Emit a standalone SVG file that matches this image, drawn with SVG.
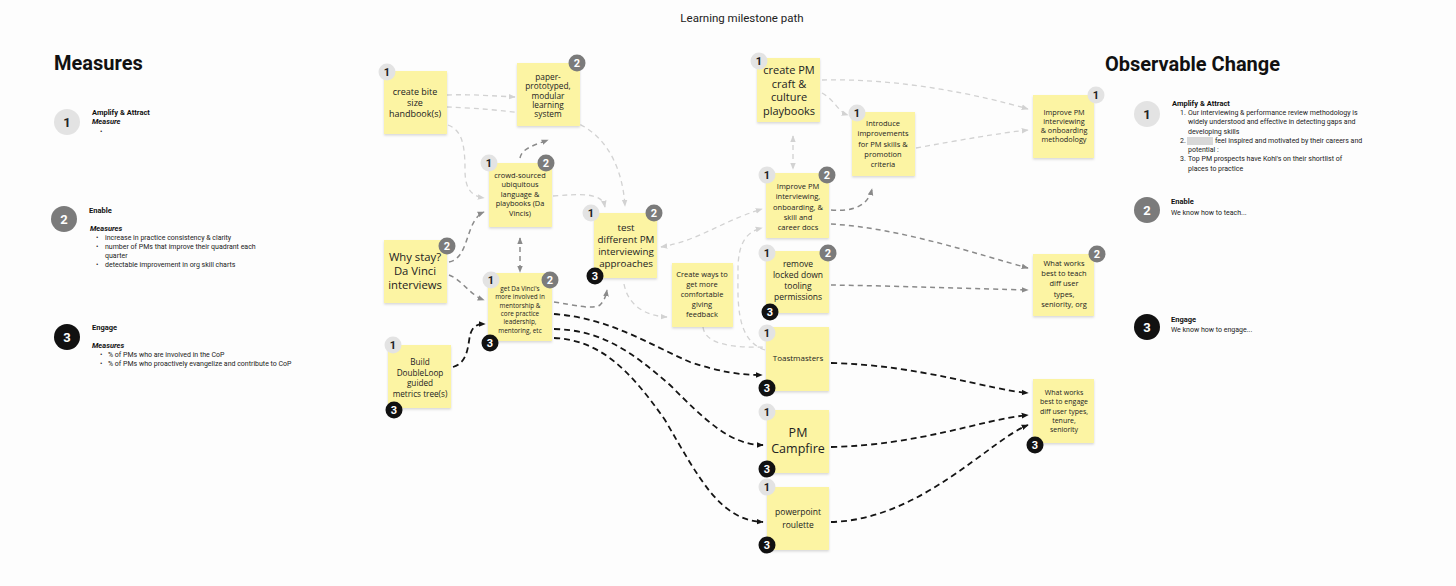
<svg xmlns="http://www.w3.org/2000/svg" width="1456" height="586" viewBox="0 0 1456 586">
<style>
.bg{fill:#fdfdfd}
.note{fill:#fcf4a3;filter:url(#sh)}
.nt{font-family:"Open Sans","Liberation Sans",sans-serif;fill:#222;text-anchor:middle}
.h{font-family:Roboto,"Liberation Sans",sans-serif;font-weight:700;font-size:20px;fill:#111}
.t{font-family:Roboto,"Liberation Sans",sans-serif;font-size:7px;fill:#222}
.tb{font-family:Roboto,"Liberation Sans",sans-serif;font-size:7.5px;font-weight:700;fill:#111}
.ti{font-family:Roboto,"Liberation Sans",sans-serif;font-size:7.5px;font-weight:700;font-style:italic;fill:#111}
.b1{fill:#e3e3e3}.b2{fill:#7b7b7b}.b3{fill:#111}
.bt{font-family:Roboto,"Liberation Sans",sans-serif;font-weight:700;text-anchor:middle}
.bt1{fill:#222}.bt2{fill:#fff}
.cl{fill:none;stroke:#d2d2d2;stroke-width:1.3;stroke-dasharray:5 4}
.cd{fill:none;stroke:#8a8a8a;stroke-width:1.5;stroke-dasharray:5 4}
.ck{fill:none;stroke:#151515;stroke-width:1.8;stroke-dasharray:6 4}
</style>
<defs>
<filter id="sh" x="-10%" y="-10%" width="130%" height="130%"><feDropShadow dx="0" dy="1.5" stdDeviation="1.2" flood-color="#000" flood-opacity="0.15"/></filter>
<marker id="al" viewBox="0 0 10 10" refX="9" refY="5" markerWidth="7" markerHeight="7" markerUnits="userSpaceOnUse" orient="auto-start-reverse"><path d="M0,1 L10,5 L0,9 z" fill="#d2d2d2"/></marker>
<marker id="ad" viewBox="0 0 10 10" refX="9" refY="5" markerWidth="7" markerHeight="7" markerUnits="userSpaceOnUse" orient="auto-start-reverse"><path d="M0,1 L10,5 L0,9 z" fill="#8a8a8a"/></marker>
<marker id="ak" viewBox="0 0 10 10" refX="9" refY="5" markerWidth="7" markerHeight="7" markerUnits="userSpaceOnUse" orient="auto-start-reverse"><path d="M0,1 L10,5 L0,9 z" fill="#151515"/></marker>
</defs>
<rect class="bg" x="0" y="0" width="1456" height="586"/>

<text x="742" y="22" text-anchor="middle" font-family="Roboto,'Liberation Sans',sans-serif" font-size="11.5" fill="#222">Learning milestone path</text>

<g id="measures">
<text class="h" x="54" y="70">Measures</text>
<circle class="b1" cx="67" cy="122" r="13"/><text class="bt bt1" x="67" y="127" font-size="13">1</text>
<text class="tb" x="92" y="115">Amplify &amp; Attract</text>
<text class="ti" x="92" y="124">Measure</text>
<text class="t" x="100" y="134">•</text>
<circle class="b2" cx="64" cy="219" r="13"/><text class="bt bt2" x="64" y="224" font-size="13">2</text>
<text class="tb" x="89" y="213">Enable</text>
<text class="ti" x="90" y="231">Measures</text>
<text class="t" x="96" y="240">•</text><text class="t" x="105" y="240">increase in practice consistency &amp; clarity</text>
<text class="t" x="96" y="249">•</text><text class="t" x="105" y="249">number of PMs that improve their quadrant each</text>
<text class="t" x="105" y="258">quarter</text>
<text class="t" x="96" y="267">•</text><text class="t" x="105" y="267">detectable improvement in org skill charts</text>
<circle class="b3" cx="67" cy="337" r="13"/><text class="bt bt2" x="67" y="342" font-size="13">3</text>
<text class="tb" x="92" y="330">Engage</text>
<text class="ti" x="92" y="348">Measures</text>
<text class="t" x="100" y="357">•</text><text class="t" x="108" y="357">% of PMs who are involved in the CoP</text>
<text class="t" x="100" y="366">•</text><text class="t" x="108" y="366">% of PMs who proactively evangelize and contribute to CoP</text>
</g>

<g id="observable">
<text class="h" x="1105" y="71">Observable Change</text>
<circle class="b1" cx="1147" cy="114" r="13"/><text class="bt bt1" x="1147" y="119" font-size="13">1</text>
<text class="tb" x="1172" y="106">Amplify &amp; Attract</text>
<text class="t" x="1180" y="115" font-size="7.5">1.</text><text class="t" x="1188" y="115" font-size="7.5">Our interviewing &amp; performance review methodology is</text>
<text class="t" x="1188" y="124" font-size="7.5">widely understood and effective in detecting gaps and</text>
<text class="t" x="1188" y="134" font-size="7.5">developing skills</text>
<text class="t" x="1180" y="143" font-size="7.5">2.</text><rect x="1187" y="137" width="26" height="8" fill="#d8d8d8"/><text class="t" x="1215" y="143" font-size="7.5">feel inspired and motivated by their careers and</text>
<text class="t" x="1188" y="152" font-size="7.5">potential :</text>
<text class="t" x="1180" y="161" font-size="7.5">3.</text><text class="t" x="1188" y="161" font-size="7.5">Top PM prospects have Kohl's on their shortlist of</text>
<text class="t" x="1188" y="171" font-size="7.5">places to practice</text>
<circle class="b2" cx="1147" cy="210" r="13"/><text class="bt bt2" x="1147" y="215" font-size="13">2</text>
<text class="tb" x="1171" y="204">Enable</text>
<text class="t" x="1171" y="215" font-size="7.5">We know how to teach...</text>
<circle class="b3" cx="1147" cy="327" r="13"/><text class="bt bt2" x="1147" y="332" font-size="13">3</text>
<text class="tb" x="1171" y="322">Engage</text>
<text class="t" x="1171" y="332" font-size="7.5">We know how to engage...</text>
</g>

<g id="connectors">
<path class="cl" d="M447,95 C470,94 495,96 515,97" marker-end="url(#al)"/>
<path class="cl" d="M447,107 C480,108 520,112 560,118 C600,125 622,160 625,206" marker-end="url(#al)"/>
<path class="cl" d="M553,196 C580,194 602,192 605,207" marker-end="url(#al)"/>
<path class="cl" d="M448,125 C462,130 465,145 465,170 C465,190 472,196 484,198" marker-end="url(#al)"/>
<path class="cl" d="M661,247 C700,240 720,222 762,209" marker-start="url(#al)" marker-end="url(#al)"/>
<path class="cl" d="M624,284 C628,305 645,316 667,317" marker-end="url(#al)"/>
<path class="cl" d="M765,350 C735,340 738,300 738,270 C738,245 745,232 762,228" marker-end="url(#al)"/>
<path class="cl" d="M703,327 C705,345 735,348 765,347"/>
<path class="cl" d="M793,136 L793,169" marker-start="url(#al)" marker-end="url(#al)"/>
<path class="cl" d="M822,93 C835,100 838,112 848,115" marker-end="url(#al)"/>
<path class="cl" d="M822,80 C900,78 980,95 1028,109" marker-end="url(#al)"/>
<path class="cl" d="M916,148 C960,140 1000,133 1028,130" marker-end="url(#al)"/>

<path class="cd" d="M520,158 C522,148 535,145 548,140" marker-end="url(#ad)"/>
<path class="cd" d="M449,262 C470,258 465,220 484,212" marker-end="url(#ad)"/>
<path class="cd" d="M449,275 C462,280 470,295 484,300" marker-end="url(#ad)"/>
<path class="cd" d="M520,238 L520,272" marker-start="url(#ad)" marker-end="url(#ad)"/>
<path class="cd" d="M554,302 C575,305 592,310 600,305 C604,301 606,296 607,290" marker-end="url(#ad)"/>
<path class="cd" d="M831,210 C855,212 868,205 872,189" marker-end="url(#ad)"/>
<path class="cd" d="M831,224 C900,228 980,255 1028,268" marker-end="url(#ad)"/>
<path class="cd" d="M831,285 C900,286 980,289 1028,290" marker-end="url(#ad)"/>

<path class="ck" d="M453,367 C468,363 468,345 470,335 C473,325 478,324 485,324" marker-end="url(#ak)"/>
<path class="ck" d="M554,314 C610,318 650,345 690,362 C720,372 740,375 762,375" marker-end="url(#ak)"/>
<path class="ck" d="M554,329 C600,330 630,350 670,385 C705,420 730,445 763,445" marker-end="url(#ak)"/>
<path class="ck" d="M554,338 C600,340 630,370 665,420 C700,480 720,520 763,522" marker-end="url(#ak)"/>
<path class="ck" d="M831,363 C920,365 990,390 1028,393" marker-end="url(#ak)"/>
<path class="ck" d="M831,447 C920,445 980,420 1028,415" marker-end="url(#ak)"/>
<path class="ck" d="M831,522 C920,520 990,440 1028,425" marker-end="url(#ak)"/>
</g>

<g id="n-handbook">
<rect class="note" x="384" y="71" width="63" height="63"/>
<text class="nt" x="415" y="95" font-size="9"><tspan x="415">create bite</tspan><tspan x="415" dy="11">size</tspan><tspan x="415" dy="11">handbook(s)</tspan></text>
<circle class="b1" cx="387" cy="72" r="8.5"/><text class="bt bt1" x="387" y="76" font-size="11">1</text>
</g>
<g id="n-paper">
<rect class="note" x="517" y="63" width="63" height="63"/>
<text class="nt" x="548" y="80" font-size="8.3"><tspan x="548">paper-</tspan><tspan x="548" dy="9.3">prototyped,</tspan><tspan x="548" dy="9.3">modular</tspan><tspan x="548" dy="9.3">learning</tspan><tspan x="548" dy="9.3">system</tspan></text>
<circle class="b2" cx="577" cy="63" r="8.5"/><text class="bt bt2" x="577" y="67" font-size="11">2</text>
</g>
<g id="n-crowd">
<rect class="note" x="489" y="163" width="63" height="64"/>
<text class="nt" x="520" y="178" font-size="7.4"><tspan x="520">crowd-sourced</tspan><tspan x="520" dy="9.4">ubiquitous</tspan><tspan x="520" dy="9.4">language &amp;</tspan><tspan x="520" dy="9.4">playbooks (Da</tspan><tspan x="520" dy="9.4">Vincis)</tspan></text>
<circle class="b1" cx="489" cy="163" r="8.5"/><text class="bt bt1" x="489" y="167" font-size="11">1</text>
<circle class="b2" cx="546" cy="163" r="8.5"/><text class="bt bt2" x="546" y="167" font-size="11">2</text>
</g>
<g id="n-whystay">
<rect class="note" x="384" y="240" width="63" height="63"/>
<text class="nt" x="415" y="261" font-size="11.3"><tspan x="415">Why stay?</tspan><tspan x="415" dy="14">Da Vinci</tspan><tspan x="415" dy="14">interviews</tspan></text>
<circle class="b2" cx="447" cy="246" r="8.5"/><text class="bt bt2" x="447" y="250" font-size="11">2</text>
</g>
<g id="n-getdavinci">
<rect class="note" x="488" y="273" width="64" height="68"/>
<text class="nt" x="520" y="291" font-size="6.4"><tspan x="520">get Da Vinci's</tspan><tspan x="520" dy="8.3">more involved in</tspan><tspan x="520" dy="8.3">mentorship &amp;</tspan><tspan x="520" dy="8.3">core practice</tspan><tspan x="520" dy="8.3">leadership,</tspan><tspan x="520" dy="8.3">mentoring, etc</tspan></text>
<circle class="b1" cx="491" cy="280" r="8.5"/><text class="bt bt1" x="491" y="284" font-size="11">1</text>
<circle class="b2" cx="550" cy="280" r="8.5"/><text class="bt bt2" x="550" y="284" font-size="11">2</text>
<circle class="b3" cx="490" cy="343" r="8.5"/><text class="bt bt2" x="490" y="347" font-size="11">3</text>
</g>
<g id="n-doubleloop">
<rect class="note" x="388" y="345" width="63" height="63"/>
<text class="nt" x="420" y="365" font-size="8.2"><tspan x="420">Build</tspan><tspan x="420" dy="10.5">DoubleLoop</tspan><tspan x="420" dy="10.5">guided</tspan><tspan x="420" dy="10.5">metrics tree(s)</tspan></text>
<circle class="b1" cx="393" cy="345" r="8.5"/><text class="bt bt1" x="393" y="349" font-size="11">1</text>
<circle class="b3" cx="394" cy="410" r="8.5"/><text class="bt bt2" x="394" y="414" font-size="11">3</text>
</g>
<g id="n-test">
<rect class="note" x="594" y="213" width="63" height="65"/>
<text class="nt" x="626" y="231" font-size="9.8"><tspan x="626">test</tspan><tspan x="626" dy="12">different PM</tspan><tspan x="626" dy="12">interviewing</tspan><tspan x="626" dy="12">approaches</tspan></text>
<circle class="b1" cx="591" cy="213" r="8.5"/><text class="bt bt1" x="591" y="217" font-size="11">1</text>
<circle class="b2" cx="654" cy="213" r="8.5"/><text class="bt bt2" x="654" y="217" font-size="11">2</text>
<circle class="b3" cx="595" cy="276" r="8.5"/><text class="bt bt2" x="595" y="280" font-size="11">3</text>
</g>
<g id="n-feedback">
<rect class="note" x="672" y="263" width="61" height="64"/>
<text class="nt" x="702" y="277" font-size="7.5"><tspan x="702">Create ways to</tspan><tspan x="702" dy="10">get more</tspan><tspan x="702" dy="10">comfortable</tspan><tspan x="702" dy="10">giving</tspan><tspan x="702" dy="10">feedback</tspan></text>
</g>
<g id="n-craft">
<rect class="note" x="757" y="58" width="63" height="64"/>
<text class="nt" x="789" y="74" font-size="11"><tspan x="789">create PM</tspan><tspan x="789" dy="13.7">craft &amp;</tspan><tspan x="789" dy="13.7">culture</tspan><tspan x="789" dy="13.7">playbooks</tspan></text>
<circle class="b1" cx="759" cy="61" r="8.5"/><text class="bt bt1" x="759" y="65" font-size="11">1</text>
</g>
<g id="n-introduce">
<rect class="note" x="852" y="112" width="63" height="64"/>
<text class="nt" x="883" y="126" font-size="7.5"><tspan x="883">Introduce</tspan><tspan x="883" dy="10.3">improvements</tspan><tspan x="883" dy="10.3">for PM skills &amp;</tspan><tspan x="883" dy="10.3">promotion</tspan><tspan x="883" dy="10.3">criteria</tspan></text>
<circle class="b1" cx="857" cy="113" r="8.5"/><text class="bt bt1" x="857" y="117" font-size="11">1</text>
</g>
<g id="n-improvedocs">
<rect class="note" x="766" y="173" width="63" height="65"/>
<text class="nt" x="798" y="189" font-size="7.5"><tspan x="798">Improve PM</tspan><tspan x="798" dy="10.3">interviewing,</tspan><tspan x="798" dy="10.3">onboarding, &amp;</tspan><tspan x="798" dy="10.3">skill and</tspan><tspan x="798" dy="10.3">career docs</tspan></text>
<circle class="b1" cx="767" cy="175" r="8.5"/><text class="bt bt1" x="767" y="179" font-size="11">1</text>
<circle class="b2" cx="827" cy="175" r="8.5"/><text class="bt bt2" x="827" y="179" font-size="11">2</text>
</g>
<g id="n-remove">
<rect class="note" x="766" y="251" width="63" height="62"/>
<text class="nt" x="798" y="267" font-size="8.5"><tspan x="798">remove</tspan><tspan x="798" dy="11">locked down</tspan><tspan x="798" dy="11">tooling</tspan><tspan x="798" dy="11">permissions</tspan></text>
<circle class="b1" cx="767" cy="253" r="8.5"/><text class="bt bt1" x="767" y="257" font-size="11">1</text>
<circle class="b2" cx="828" cy="253" r="8.5"/><text class="bt bt2" x="828" y="257" font-size="11">2</text>
<circle class="b3" cx="770" cy="312" r="8.5"/><text class="bt bt2" x="770" y="316" font-size="11">3</text>
</g>
<g id="n-toastmasters">
<rect class="note" x="766" y="327" width="63" height="64"/>
<text class="nt" x="798" y="361" font-size="8">Toastmasters</text>
<circle class="b1" cx="767" cy="333" r="8.5"/><text class="bt bt1" x="767" y="337" font-size="11">1</text>
<circle class="b3" cx="767" cy="388" r="8.5"/><text class="bt bt2" x="767" y="392" font-size="11">3</text>
</g>
<g id="n-campfire">
<rect class="note" x="767" y="410" width="62" height="63"/>
<text class="nt" x="798" y="437" font-size="12.5"><tspan x="798">PM</tspan><tspan x="798" dy="16">Campfire</tspan></text>
<circle class="b1" cx="767" cy="412" r="8.5"/><text class="bt bt1" x="767" y="416" font-size="11">1</text>
<circle class="b3" cx="767" cy="469" r="8.5"/><text class="bt bt2" x="767" y="473" font-size="11">3</text>
</g>
<g id="n-roulette">
<rect class="note" x="767" y="487" width="62" height="63"/>
<text class="nt" x="798" y="515" font-size="8.5"><tspan x="798">powerpoint</tspan><tspan x="798" dy="13">roulette</tspan></text>
<circle class="b1" cx="767" cy="487" r="8.5"/><text class="bt bt1" x="767" y="491" font-size="11">1</text>
<circle class="b3" cx="767" cy="545" r="8.5"/><text class="bt bt2" x="767" y="549" font-size="11">3</text>
</g>
<g id="n-methodology">
<rect class="note" x="1033" y="95" width="61" height="63"/>
<text class="nt" x="1064" y="115" font-size="7.3"><tspan x="1064">Improve PM</tspan><tspan x="1064" dy="9">interviewing</tspan><tspan x="1064" dy="9">&amp; onboarding</tspan><tspan x="1064" dy="9">methodology</tspan></text>
<circle class="b1" cx="1096" cy="95" r="8.5"/><text class="bt bt1" x="1096" y="99" font-size="11">1</text>
</g>
<g id="n-teach">
<rect class="note" x="1033" y="254" width="61" height="62"/>
<text class="nt" x="1064" y="266" font-size="7.5"><tspan x="1064">What works</tspan><tspan x="1064" dy="10.2">best to teach</tspan><tspan x="1064" dy="10.2">diff user</tspan><tspan x="1064" dy="10.2">types,</tspan><tspan x="1064" dy="10.2">seniority, org</tspan></text>
<circle class="b2" cx="1097" cy="254" r="8.5"/><text class="bt bt2" x="1097" y="258" font-size="11">2</text>
</g>
<g id="n-engage">
<rect class="note" x="1033" y="379" width="61" height="64"/>
<text class="nt" x="1064" y="395" font-size="7"><tspan x="1064">What works</tspan><tspan x="1064" dy="9.3">best to engage</tspan><tspan x="1064" dy="9.3">diff user types,</tspan><tspan x="1064" dy="9.3">tenure,</tspan><tspan x="1064" dy="9.3">seniority</tspan></text>
<circle class="b3" cx="1035" cy="445" r="8.5"/><text class="bt bt2" x="1035" y="449" font-size="11">3</text>
</g>
</svg>
